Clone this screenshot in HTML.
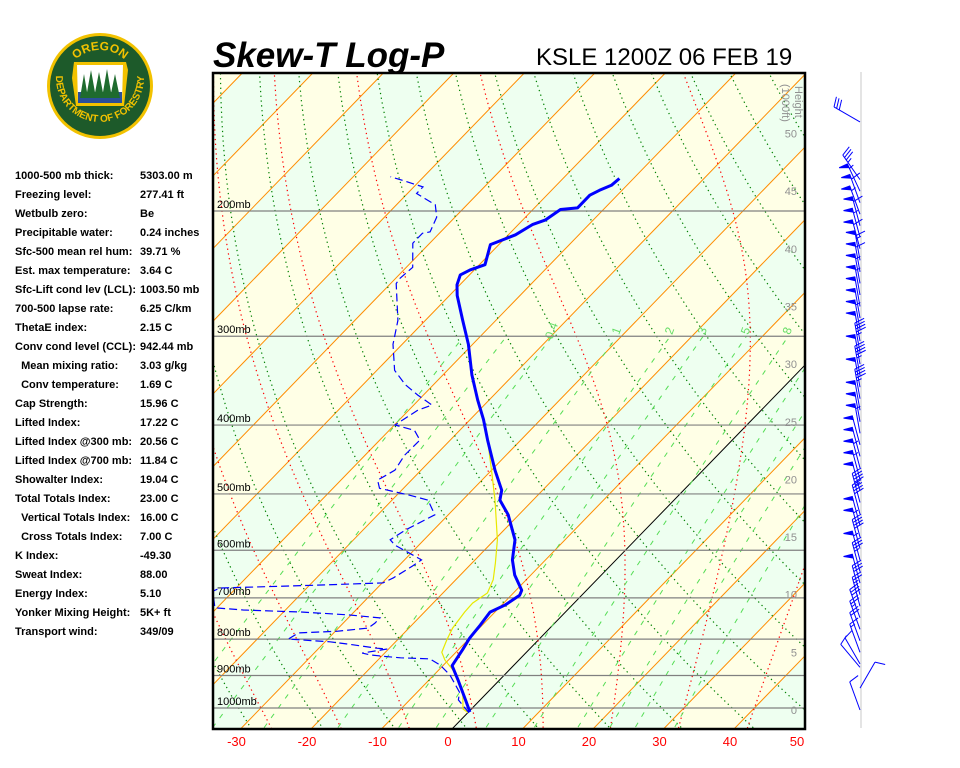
<!DOCTYPE html>
<html><head><meta charset="utf-8"><style>
html,body{margin:0;padding:0;background:#fff;width:960px;height:768px;overflow:hidden;}
body{position:relative;font-family:"Liberation Sans",sans-serif;}
#stats{position:absolute;left:15px;top:169px;font-size:11px;font-weight:bold;color:#000;}
.row{height:19px;line-height:14px;position:relative;white-space:nowrap;}
.row .v{position:absolute;left:125px;top:0;}
</style></head><body>
<svg id="chart" width="960" height="768" style="position:absolute;left:0;top:0;display:block" xmlns="http://www.w3.org/2000/svg">
<defs><clipPath id="clip"><rect x="213" y="73" width="592" height="656"/></clipPath>
<path id="arcTop" d="M64,86 A36,36 0 0 1 136,86"/>
<path id="arcBot" d="M56,78 A44,44 0 0 0 144,78"/>
</defs>
<g>
<circle cx="100" cy="86" r="53" fill="#f2c200"/>
<circle cx="100" cy="86" r="50" fill="#1d5a2a"/>
<text font-family="Liberation Sans" font-weight="bold" font-size="12" fill="#f2c200"><textPath href="#arcTop" startOffset="50%" text-anchor="middle">OREGON</textPath></text>
<text font-family="Liberation Sans" font-weight="bold" font-size="10" fill="#f2c200"><textPath href="#arcBot" startOffset="50%" text-anchor="middle">DEPARTMENT OF FORESTRY</textPath></text>
<path d="M74,62 L126,62 L128,70 L124,106 L76,106 L72,78 Z" fill="#f2c200"/>
<path d="M77,65 L123,65 L122,103 L78,103 Z" fill="#fff"/>
<path d="M78,92 L122,92 L122,103 L78,103 Z" fill="#2a4f9a"/>
<path d="M80,98 L84,74 L88,98 Z M86,98 L91,70 L96,98 Z M94,98 L99,72 L104,98 Z M102,98 L107,69 L112,98 Z M110,98 L115,74 L120,98 Z" fill="#1f6b2e"/>
</g>
<text x="213" y="67" font-family="Liberation Sans" font-weight="bold" font-style="italic" font-size="35" fill="#000">Skew-T Log-P</text>
<text x="536" y="65" font-family="Liberation Sans" font-size="24" fill="#000">KSLE 1200Z 06 FEB 19</text>
<g id="plot" clip-path="url(#clip)"></g>
<g id="over"></g>
<rect x="213" y="73" width="592" height="656" fill="none" stroke="#000" stroke-width="2.5"/>
<line x1="861" y1="72" x2="861" y2="728" stroke="#e4e4e4" stroke-width="2"/>
<g id="winds"></g>
</svg>
<div id="stats">
<div class="row">1000-500 mb thick:<span class="v">5303.00 m</span></div>
<div class="row">Freezing level:<span class="v">277.41 ft</span></div>
<div class="row">Wetbulb zero:<span class="v">Be</span></div>
<div class="row">Precipitable water:<span class="v">0.24 inches</span></div>
<div class="row">Sfc-500 mean rel hum:<span class="v">39.71 %</span></div>
<div class="row">Est. max temperature:<span class="v">3.64 C</span></div>
<div class="row">Sfc-Lift cond lev (LCL):<span class="v">1003.50 mb</span></div>
<div class="row">700-500 lapse rate:<span class="v">6.25 C/km</span></div>
<div class="row">ThetaE index:<span class="v">2.15 C</span></div>
<div class="row">Conv cond level (CCL):<span class="v">942.44 mb</span></div>
<div class="row">&nbsp;&nbsp;Mean mixing ratio:<span class="v">3.03 g/kg</span></div>
<div class="row">&nbsp;&nbsp;Conv temperature:<span class="v">1.69 C</span></div>
<div class="row">Cap Strength:<span class="v">15.96 C</span></div>
<div class="row">Lifted Index:<span class="v">17.22 C</span></div>
<div class="row">Lifted Index @300 mb:<span class="v">20.56 C</span></div>
<div class="row">Lifted Index @700 mb:<span class="v">11.84 C</span></div>
<div class="row">Showalter Index:<span class="v">19.04 C</span></div>
<div class="row">Total Totals Index:<span class="v">23.00 C</span></div>
<div class="row">&nbsp;&nbsp;Vertical Totals Index:<span class="v">16.00 C</span></div>
<div class="row">&nbsp;&nbsp;Cross Totals Index:<span class="v">7.00 C</span></div>
<div class="row">K Index:<span class="v">-49.30</span></div>
<div class="row">Sweat Index:<span class="v">88.00</span></div>
<div class="row">Energy Index:<span class="v">5.10</span></div>
<div class="row">Yonker Mixing Height:<span class="v">5K+ ft</span></div>
<div class="row">Transport wind:<span class="v">349/09</span></div>
</div>
<script>
// ---- data ----
const tempP=[1013,974,913,872,828,797,764,733,716,694,683,650,619,580,535,510,494,463,420,393,369,340,308,285,263,254,246,242,238,223,216,209,206,199,198,190,187,184,180];
const tempT=[0.2,-2.1,-5.9,-8.7,-9.4,-10.0,-10.3,-10.7,-9.5,-8.8,-9.2,-12.3,-14.7,-17.1,-21.5,-24.7,-25.8,-29.5,-34.7,-38.1,-41.6,-45.9,-50.6,-54.7,-58.9,-60.4,-61.3,-60.6,-59.2,-61.2,-59.0,-58.0,-56.8,-56.1,-53.9,-53.9,-53.2,-52.2,-52.0];
const dewP=[1016,974,950,899,870,853,850,847,842,837,826,824,815,807,800,784,780,772,760,747,740,733,728,723,685,678,672,667,656,631,619,590,580,562,535,510,502,491,478,463,441,420,407,400,381,375,363,351,335,308,285,253,249,240,222,215,214,204,196,189,185,181,179];
const dewT=[0.2,-3.1,-4.0,-7.7,-10.5,-12.8,-17.1,-19.1,-21.8,-23.2,-20.2,-21.8,-25.6,-29.3,-35.6,-35.0,-29.8,-25.8,-25.5,-25.5,-30.2,-37.2,-46.0,-50.3,-52.9,-52.3,-39.5,-29.9,-29.1,-28.0,-27.6,-33.4,-34.8,-34.0,-31.9,-34.9,-38.2,-43.4,-44.8,-43.7,-44.4,-44.3,-46.4,-49.9,-48.7,-47.4,-50.8,-54.0,-57.5,-61.3,-63.9,-69.2,-69.4,-69.1,-72.4,-72.4,-71.5,-72.6,-74.5,-78.7,-78.7,-82.6,-84.7];
const wetP=[1016,1003,953,899,856,835,802,772,733,712,689,660,625,580,510,463,420,393];
const wetT=[0.1,-1.2,-3.4,-6.7,-10.5,-12.0,-13.0,-13.8,-14.3,-14.4,-13.7,-14.7,-16.7,-19.6,-25.4,-30.0,-34.7,-38.1];
const isobars=[200,300,400,500,600,700,800,900,1000];
const tempTicks=[-30,-20,-10,0,10,20,30,40,50];
const heightTicks=[0,5,10,15,20,25,30,35,40,45,50];
const mixRatios=[0.1,0.2,0.4,1,2,3,5,8,12,16,20,28];
const mixLabels=["0.4","1","2","3","5","8"];
const dryThetas=[220,230,240,250,260,270,280,290,300,310,320,330,340,350,360,370,380,390,400,410,420,430,440,450,460,470,480];
const moistThetaW=[-40,-30,-20,-10,0,10,20,30,40];
const windH=[51,46,45,44,43,42,41,40,39,38,37,36,35,34,33,32,31,30,29,28,27,26,25,24,23,22,21,20,19,18,17,16,15,14,13,12,11,10,9,8,7,6,5,4,3.7,1.9,0];
const windDir=[300,325,335,340,340,345,345,345,350,350,350,350,350,350,350,350,350,350,350,350,350,350,350,350,345,345,345,345,345,345,345,345,345,345,345,345,345,345,345,340,340,340,340,330,320,30,340];
const windSpd=[30,35,55,60,55,60,55,60,65,60,55,55,50,50,55,50,45,50,45,50,45,50,50,55,50,50,55,55,50,45,40,50,55,40,55,35,50,30,25,30,25,20,15,10,10,10,10];

// ---- axes ----
const NS='http://www.w3.org/2000/svg';
function yP(p){return 708+308.8*Math.log(p/1000);}
function xT(T,y){return 452+7.05*T+0.97*(729-y);}
function mk(tag,attrs,parent){const e=document.createElementNS(NS,tag);for(const k in attrs)e.setAttribute(k,attrs[k]);parent.appendChild(e);return e;}
const plot=document.getElementById('plot'),over=document.getElementById('over'),winds=document.getElementById('winds');
function pts(arrP,fnT){let s=[];for(let i=0;i<arrP.length;i++){const y=yP(arrP[i]);s.push(xT(fnT(i),y).toFixed(1)+','+y.toFixed(1));}return s.join(' ');}

// background bands
for(let T=-200;T<60;T+=10){
  const k=Math.floor(T/10);
  const col=(Math.abs(k)%2===1)?'#ffffe6':'#eefff0';
  const band=mk('polygon',{points:`${xT(T,729)},729 ${xT(T+10,729)},729 ${xT(T+10,73)},73 ${xT(T,73)},73`,fill:col,stroke:'none'},plot);
  
  
}
// isotherms
for(let T=-200;T<=60;T+=10){
  const l=mk('line',{x1:xT(T,729),y1:729,x2:xT(T,73),y2:73,stroke:T===0?'#000':'#ff8c00','stroke-width':1},plot);
  
  
}
// dry adiabats
const pLev=[];for(let p=1100;p>=120;p-=10)pLev.push(p);
dryThetas.forEach(th=>{
  const s=pLev.map(p=>{const y=yP(p);return xT(th*Math.pow(p/1000,0.2857)-273.15,y).toFixed(1)+','+y.toFixed(1);}).join(' ');
  const l=mk('polyline',{points:s,fill:'none',stroke:'#008000','stroke-width':1.2,'stroke-dasharray':'1.3 3.5'},plot);
  
  
});
// moist adiabats
function es(T){return 6.112*Math.exp(17.67*T/(T+243.5));}
function dTdp(p,T){const Tk=T+273.15,e=es(T),r=0.622*e/(p-e);return (287*Tk+2.5e6*r)/(1005+2.5e6*2.5e6*r*0.622/(287*Tk*Tk))/p;}
moistThetaW.forEach(tw=>{
  let up=[],T=tw;for(let p=1000;p>=120;p-=2){if(p%10===0)up.push([p,T]);T-=dTdp(p,T)*2;}
  let dn=[];T=tw;for(let p=1000;p<=1100;p+=2){if(p%10===0)dn.unshift([p,T]);T+=dTdp(p,T)*2;}
  const all=dn.concat(up.slice(1));
  const s=all.map(a=>{const y=yP(a[0]);return xT(a[1],y).toFixed(1)+','+y.toFixed(1);}).join(' ');
  const l=mk('polyline',{points:s,fill:'none',stroke:'#ff0000','stroke-width':1.2,'stroke-dasharray':'1.3 3.5'},plot);
  
  
});
// mixing ratio lines
function tdFromW(w,p){const e=w*p/(622+w);const l=Math.log(e/6.112);return 243.5*l/(17.67-l);}
mixRatios.forEach(w=>{
  const s=pLev.filter(p=>p>=300).map(p=>{const y=yP(p);return xT(tdFromW(w,p),y).toFixed(1)+','+y.toFixed(1);}).join(' ');
  const l=mk('polyline',{points:s,fill:'none',stroke:'#55dd55','stroke-width':1,'stroke-dasharray':'5 7'},plot);
  
  
});
mixLabels.forEach(lb=>{
  const w=parseFloat(lb),p=296,y=yP(p),x=xT(tdFromW(w,p),y);
  const t=mk('text',{x:x,y:y,'font-size':12,fill:'#66dd66','font-family':'Liberation Sans','text-anchor':'middle',transform:`rotate(-70 ${x} ${y})`},plot);
  t.textContent=lb;
  
  
});
// isobars
isobars.forEach(p=>{
  const y=yP(p);
  const l=mk('line',{x1:213,y1:y,x2:805,y2:y,stroke:'#808080','stroke-width':1.2},plot);
  
  
  const t=mk('text',{x:217,y:y-3,'font-size':11,fill:'#000','font-family':'Liberation Sans'},plot);
  t.textContent=p+'mb';
  
  
});
// height ticks
heightTicks.forEach(h=>{
  const t=mk('text',{x:797,y:710-11.53*h+4,'font-size':11,fill:'#909090','font-family':'Liberation Sans','text-anchor':'end'},plot);
  t.textContent=h;
  
  
});
const ht=mk('text',{x:0,y:0,'font-size':11,fill:'#909090','font-family':'Liberation Sans',transform:'translate(795,86) rotate(90)'},plot);
ht.textContent='Height';


const ht2=mk('text',{x:0,y:0,'font-size':11,fill:'#909090','font-family':'Liberation Sans',transform:'translate(782,84) rotate(90)'},plot);
ht2.textContent='(1000ft)';


// profiles
const wl=mk('polyline',{points:pts(wetP,i=>wetT[i]),fill:'none',stroke:'#e8e800','stroke-width':1.2},plot);


const dl=mk('polyline',{points:pts(dewP,i=>dewT[i]),fill:'none',stroke:'#0000ff','stroke-width':1.2,'stroke-dasharray':'8 4'},plot);


const tl=mk('polyline',{points:pts(tempP,i=>tempT[i]),fill:'none',stroke:'#0000ff','stroke-width':3,'stroke-linejoin':'round'},plot);


// temperature tick labels
tempTicks.forEach(T=>{
  const x=Math.min(xT(T,729)-4,797);
  const t=mk('text',{x:x,y:746,'font-size':13,fill:'#ff0000','font-family':'Liberation Sans','text-anchor':'middle'},over);
  t.textContent=T;
  
  
});
// wind barbs
windH.forEach((h,i)=>{
  const by=710-11.53*h,bx=860,d=windDir[i]*Math.PI/180,L=30;
  const ux=Math.sin(d),uy=-Math.cos(d),px=Math.cos(d),py=Math.sin(d);
  const g=mk('g',{stroke:'#0000ff',fill:'#0000ff','stroke-width':1},winds);
  
  
  mk('line',{x1:bx,y1:by,x2:bx+ux*L,y2:by+uy*L},g);
  let s=windSpd[i],pos=L;
  while(s>=50){const ax=bx+ux*pos,ay=by+uy*pos,cx=bx+ux*(pos-4),cy=by+uy*(pos-4);
    mk('polygon',{points:`${ax},${ay} ${ax-px*9},${ay-py*9} ${cx},${cy}`},g);s-=50;pos-=5;}
  while(s>=10){const ax=bx+ux*pos,ay=by+uy*pos;mk('line',{x1:ax,y1:ay,x2:ax+px*10+ux*3,y2:ay+py*10+uy*3},g);s-=10;pos-=3;}
  if(s>=5){const ax=bx+ux*pos,ay=by+uy*pos;mk('line',{x1:ax,y1:ay,x2:ax+px*5+ux*1.5,y2:ay+py*5+uy*1.5},g);}
});
</script>
</body></html>
